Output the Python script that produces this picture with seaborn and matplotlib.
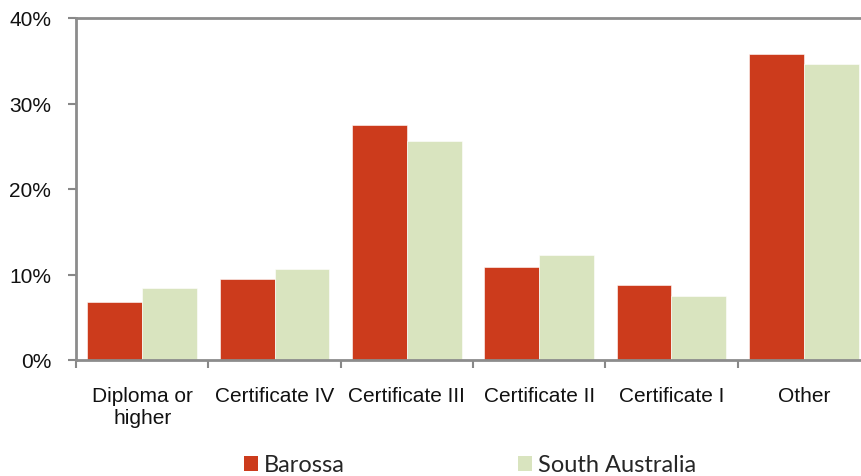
import matplotlib
matplotlib.use("Agg")
import matplotlib.pyplot as plt
import seaborn as sns
import pandas as pd
from matplotlib.patches import Patch
from matplotlib.ticker import FixedLocator

categories = ["Diploma or\nhigher", "Certificate IV", "Certificate III", "Certificate II", "Certificate I", "Other"]
barossa = [6.8, 9.5, 27.5, 10.9, 8.8, 35.8]
south_australia = [8.4, 10.7, 25.6, 12.3, 7.5, 34.6]
series = ["Barossa", "South Australia"]
colors = ["#CC3B1C", "#D9E4BF"]
yticks = [0, 10, 20, 30, 40]

df = pd.DataFrame({
    "cat": categories * 2,
    "val": barossa + south_australia,
    "series": [series[0]] * len(categories) + [series[1]] * len(categories),
})

sns.set_style("white")
plt.rcParams['font.family'] = ['Liberation Sans', 'DejaVu Sans']

fig = plt.figure(figsize=(8.61, 4.77), dpi=100)
ax = fig.add_axes([76/861, 1 - 361/477, 794/861, (361-19)/477])

sns.barplot(data=df, x="cat", y="val", hue="series", palette=colors, width=0.83,
            ax=ax, legend=False, edgecolor="white", linewidth=0.4, saturation=1)

ax.set_ylim(0, 40)
ax.set_xlim(-0.5, len(categories) - 0.5)
ax.set_yticks(yticks)
ax.set_yticklabels([f"{t}%" for t in yticks], fontsize=15, color="#111111")
ax.set_xticks(range(len(categories)))
ax.set_xticklabels(categories, fontsize=15, color="#111111", linespacing=1.15)
ax.xaxis.set_minor_locator(FixedLocator([i + 0.5 for i in range(-1, len(categories))]))
ax.tick_params(axis="x", which="major", length=0, pad=19)
ax.tick_params(axis="x", which="minor", length=6, width=1.5, color="#888888", direction="out", bottom=True)
ax.tick_params(axis="y", which="major", length=6, width=1.5, color="#888888", direction="out", left=True, pad=12)
ax.set_xlabel("")
ax.set_ylabel("")

for side in ["left", "top", "bottom"]:
    ax.spines[side].set_visible(True)
    ax.spines[side].set_color("#8c8c8c")
    ax.spines[side].set_linewidth(2)
ax.spines["right"].set_visible(False)

handles = [Patch(facecolor=c, edgecolor="none") for c in colors]
fig.legend(handles, series, loc="center", bbox_to_anchor=(470/861, 1 - 466/477), ncol=2,
           frameon=False, prop={"family": "Lato", "size": 17},
           handlelength=0.6, handleheight=0.6, handletextpad=0.25, columnspacing=7.3)

fig.savefig("out.png", dpi=100)
